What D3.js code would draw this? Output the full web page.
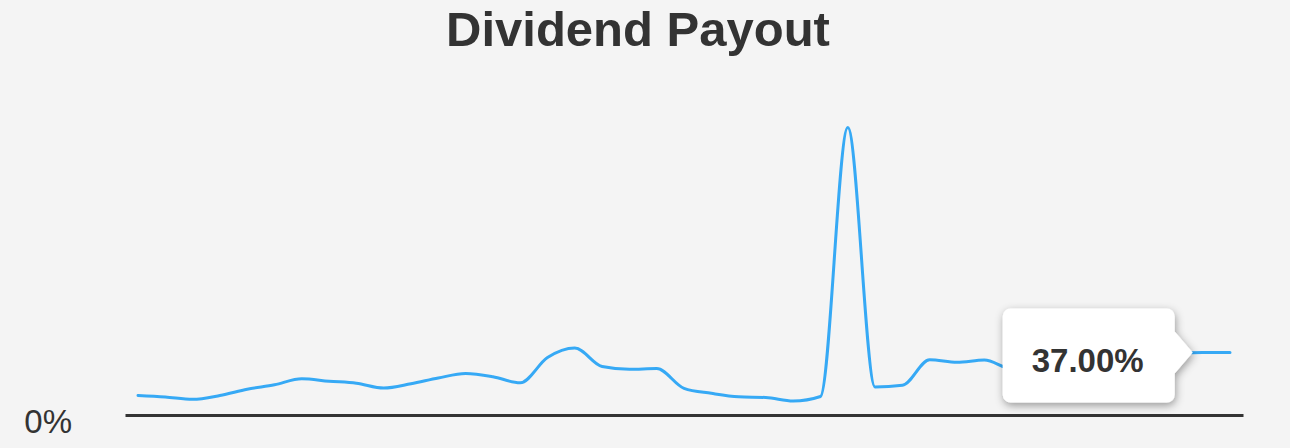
<!DOCTYPE html>
<html>
<head>
<meta charset="utf-8">
<script src="https://cdn.jsdelivr.net/npm/d3@7/dist/d3.min.js"></script>
<style>
  html, body { margin: 0; padding: 0; background: #f4f4f4; }
  svg { display: block; }
</style>
</head>
<body>
<svg id="chart" width="1290" height="448"></svg>
<script>
// ---- data (payout ratio %, one value per period) ----
const title = "Dividend Payout";
const payoutValues = [
  11.55, 10.66, 9.30, 11.55, 15.22, 17.88, 21.43, 20.01, 18.83, 15.99,
  18.53, 21.91, 24.57, 22.68, 19.06, 34.04, 39.67, 28.71, 27.06, 27.53,
  15.81, 12.85, 10.78, 10.36, 8.29, 10.95, 170.2, 16.58, 17.58, 32.74,
  31.20, 32.56, 27.5, 29.0, 31.0, 33.0, 34.5, 35.5, 36.5, 37.00, 37.00
];
const yTickValues = [0];
const yTickLabels = ["0%"];
const hoverIndex = 39;

// ---- layout ----
const W = 1290, H = 448;
const svg = d3.select("#chart");

svg.append("rect").attr("width", W).attr("height", H).attr("fill", "#f4f4f4");

const defs = svg.append("defs");
const f = defs.append("filter").attr("id", "shadow")
  .attr("x", "-20%").attr("y", "-30%").attr("width", "140%").attr("height", "160%");
f.append("feDropShadow").attr("dx", 1).attr("dy", 3).attr("stdDeviation", 4)
  .attr("flood-color", "#000").attr("flood-opacity", 0.38);

const idx = payoutValues.map((d, i) => i);
const x = d3.scalePoint().domain(idx).range([125, 1243]).padding(0.476);
const y = d3.scaleLinear().domain([0, 180]).range([415, 111]);

// title
svg.append("text")
  .attr("x", 638).attr("y", 46)
  .attr("text-anchor", "middle")
  .attr("font-family", "'Liberation Sans', Arial, Helvetica, sans-serif")
  .attr("font-weight", "bold")
  .attr("font-size", 49)
  .attr("fill", "#333")
  .text(title);

// line
const line = d3.line()
  .x((d, i) => x(i))
  .y(d => y(d))
  .curve(d3.curveMonotoneX);

svg.append("path")
  .datum(payoutValues)
  .attr("d", line)
  .attr("fill", "none")
  .attr("stroke", "#36a9f5")
  .attr("stroke-width", 3)
  .attr("stroke-linecap", "round")
  .attr("stroke-linejoin", "round");

// x axis (baseline)
const xAxis = svg.append("g")
  .attr("transform", `translate(0,${y(0)})`)
  .call(d3.axisBottom(x).tickValues([]).tickSizeOuter(0));
xAxis.select(".domain").attr("stroke", "#333").attr("stroke-width", 3);

// y axis label
const yAxis = svg.append("g")
  .attr("transform", "translate(72,0)")
  .call(d3.axisLeft(y).tickValues(yTickValues).tickSize(0).tickPadding(0)
    .tickFormat((d, i) => yTickLabels[i]));
yAxis.select(".domain").remove();
yAxis.selectAll("text")
  .attr("dy", "0.52em")
  .attr("font-family", "'Liberation Sans', Arial, Helvetica, sans-serif")
  .attr("font-size", 33)
  .attr("fill", "#333");

// tooltip
const px = x(hoverIndex), py = y(payoutValues[hoverIndex]);
const tipX = px - 10, boxR = px - 28, boxL = boxR - 172;
const boxT = py - 44, boxB = py + 50, r = 8, ch = 21;
const p = d3.path();
p.moveTo(boxL + r, boxT);
p.lineTo(boxR - r, boxT);
p.arcTo(boxR, boxT, boxR, boxT + r, r);
p.lineTo(boxR, py - ch);
p.lineTo(tipX, py);
p.lineTo(boxR, py + ch);
p.lineTo(boxR, boxB - r);
p.arcTo(boxR, boxB, boxR - r, boxB, r);
p.lineTo(boxL + r, boxB);
p.arcTo(boxL, boxB, boxL, boxB - r, r);
p.lineTo(boxL, boxT + r);
p.arcTo(boxL, boxT, boxL + r, boxT, r);
p.closePath();

svg.append("path")
  .attr("d", p.toString())
  .attr("fill", "#fff")
  .attr("filter", "url(#shadow)");

svg.append("text")
  .attr("x", (boxL + boxR) / 2 - 1)
  .attr("y", py + 19)
  .attr("text-anchor", "middle")
  .attr("font-family", "'Liberation Sans', Arial, Helvetica, sans-serif")
  .attr("font-weight", "bold")
  .attr("font-size", 33)
  .attr("fill", "#333")
  .text(d3.format(".2f")(payoutValues[hoverIndex]) + "%");
</script>
</body>
</html>
